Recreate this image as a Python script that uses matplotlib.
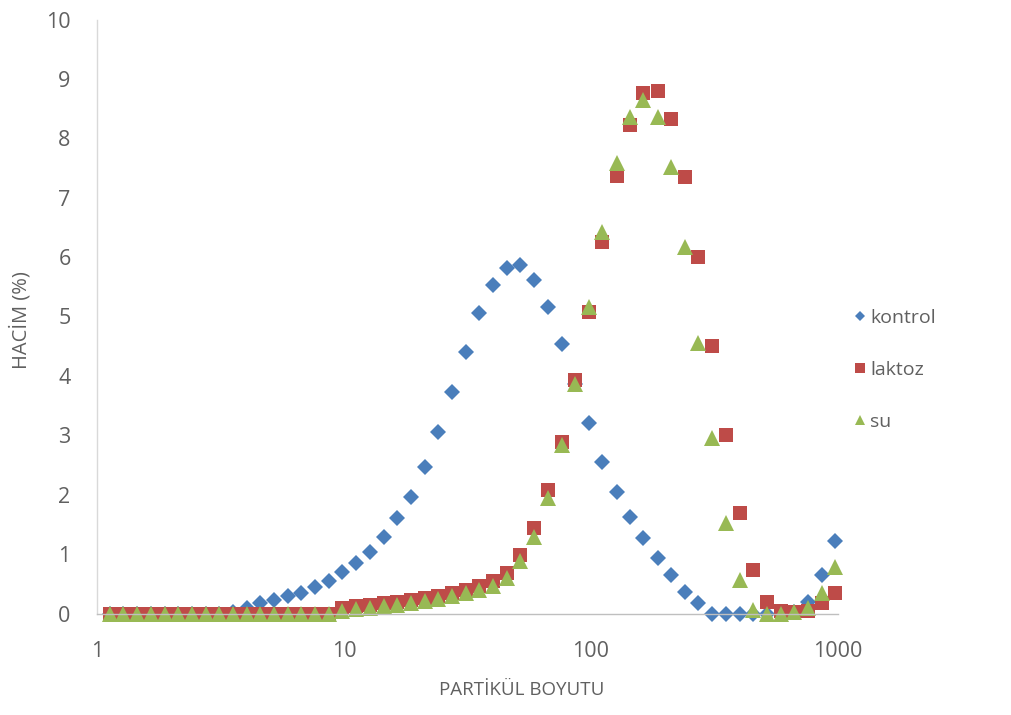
import matplotlib
matplotlib.use("Agg")
import matplotlib.pyplot as plt
from matplotlib.ticker import FixedLocator, FixedFormatter, NullLocator

# particle size classes (µm)
sizes = [1.13, 1.28, 1.45, 1.65, 1.88, 2.13, 2.42, 2.75, 3.12, 3.55,
         4.03, 4.58, 5.21, 5.92, 6.72, 7.64, 8.68, 9.86, 11.2, 12.7,
         14.5, 16.4, 18.7, 21.2, 24.1, 27.4, 31.1, 35.3, 40.1, 45.6,
         51.8, 58.9, 66.9, 76.0, 86.4, 98.1, 111, 127, 144, 163,
         186, 211, 240, 272, 310, 352, 400, 454, 516, 586,
         666, 756, 859, 976]

kontrol = [0, 0, 0, 0, 0, 0, 0, 0, 0, 0.02,
           0.10, 0.18, 0.23, 0.29, 0.34, 0.45, 0.55, 0.70, 0.85, 1.04,
           1.29, 1.61, 1.96, 2.47, 3.06, 3.73, 4.40, 5.06, 5.53, 5.82,
           5.87, 5.61, 5.16, 4.54, 3.87, 3.21, 2.55, 2.05, 1.62, 1.27,
           0.94, 0.65, 0.36, 0.18, 0, 0, 0, 0, 0, 0,
           0.03, 0.20, 0.65, 1.22]

laktoz = [0, 0, 0, 0, 0, 0, 0, 0, 0, 0,
          0, 0, 0, 0, 0, 0, 0, 0.10, 0.12, 0.14,
          0.17, 0.20, 0.23, 0.26, 0.30, 0.35, 0.40, 0.46, 0.55, 0.69,
          0.99, 1.44, 2.08, 2.88, 3.93, 5.07, 6.25, 7.36, 8.22, 8.76,
          8.80, 8.32, 7.35, 6.00, 4.50, 3.00, 1.70, 0.74, 0.20, 0.05,
          0.02, 0.05, 0.18, 0.35]

su = [0, 0, 0, 0, 0, 0, 0, 0, 0, 0,
      0, 0, 0, 0, 0, 0, 0, 0.05, 0.07, 0.09,
      0.12, 0.15, 0.18, 0.21, 0.25, 0.29, 0.34, 0.40, 0.47, 0.60,
      0.88, 1.28, 1.95, 2.83, 3.87, 5.16, 6.43, 7.58, 8.36, 8.65,
      8.36, 7.52, 6.17, 4.55, 2.95, 1.52, 0.57, 0.06, 0, 0,
      0.02, 0.10, 0.35, 0.78]

x_ticks = [1, 10, 100, 1000]
x_tick_labels = ["1", "10", "100", "1000"]
y_ticks = [0, 1, 2, 3, 4, 5, 6, 7, 8, 9, 10]

plt.rcParams['font.family'] = ['Open Sans', 'DejaVu Sans']
txt = '#606060'

fig = plt.figure(figsize=(10.12, 7.15), dpi=100)
ax = fig.add_axes([97/1012, 1 - 613.5/715, (838 - 97)/1012, (613.5 - 19.5)/715])

ax.plot(sizes, kontrol, linestyle='none', marker='D', markersize=7.9,
        color='#4A7EBB', markeredgewidth=0, label='kontrol', clip_on=False)
ax.plot(sizes, laktoz, linestyle='none', marker='s', markersize=10.5,
        color='#BE4B48', markeredgewidth=0, label='laktoz', clip_on=False)
ax.plot(sizes, su, linestyle='none', marker='^', markersize=11.0,
        color='#98B954', markeredgewidth=0, label='su', clip_on=False)

ax.set_xscale('log')
ax.set_xlim(1, 1000)
ax.set_ylim(0, 10)
ax.xaxis.set_major_locator(FixedLocator(x_ticks))
ax.xaxis.set_major_formatter(FixedFormatter(x_tick_labels))
ax.xaxis.set_minor_locator(NullLocator())
ax.set_yticks(y_ticks)
ax.tick_params(axis='both', length=0, labelsize=15.5, colors=txt)
ax.tick_params(axis='y', pad=19)
ax.tick_params(axis='x', pad=20)

for s in ['top', 'right']:
    ax.spines[s].set_visible(False)
ax.spines['left'].set_color('#D9D9D9')
ax.spines['bottom'].set_color('#BFBFBF')
ax.spines['left'].set_linewidth(1.0)
ax.spines['bottom'].set_linewidth(1.0)

fig.text(21/1012, 1 - 320/715, 'HACİM (%)', rotation=90, ha='center', va='center',
         fontsize=14.5, color=txt)
fig.text(522/1012, 1 - 690/715, 'PARTİKÜL BOYUTU', ha='center', va='center',
         fontsize=13.5, color=txt)

leg = fig.legend(loc='center left', bbox_to_anchor=(843/1012, 1 - 370/715),
                 frameon=False, fontsize=14, labelspacing=1.75, handletextpad=0.0,
                 handlelength=1.0, markerscale=0.7, borderaxespad=0)
for t in leg.get_texts():
    t.set_color(txt)

fig.savefig('out.png', dpi=100)
